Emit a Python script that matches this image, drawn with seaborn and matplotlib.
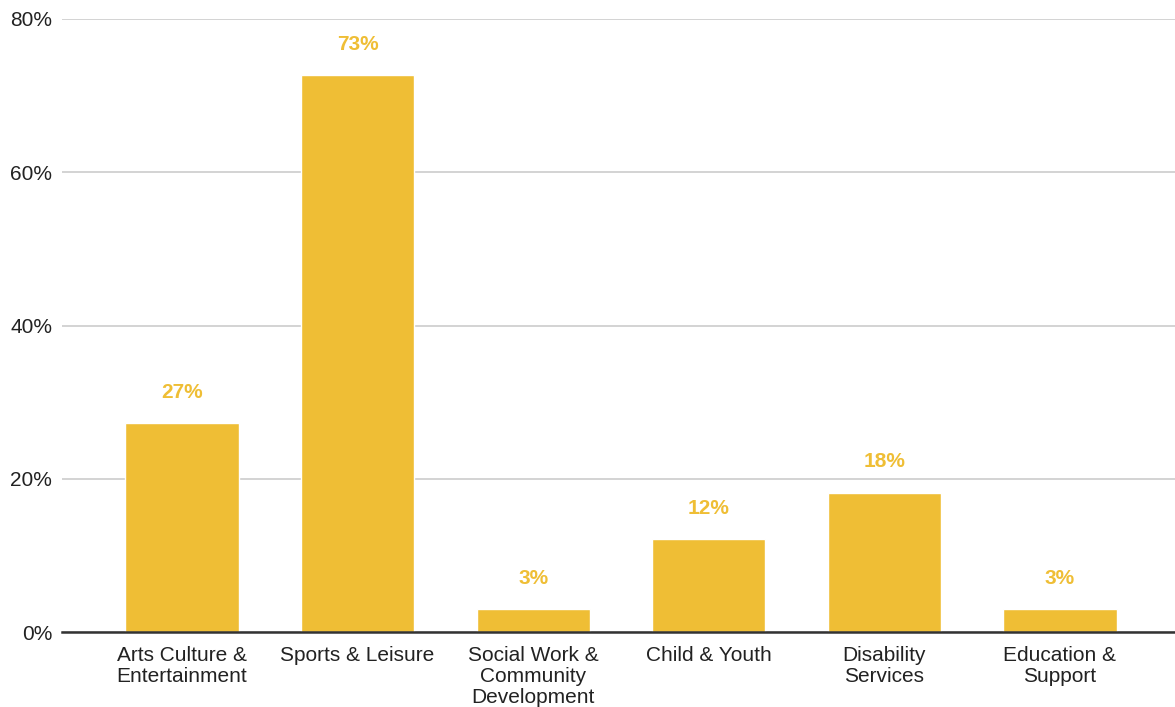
import matplotlib
matplotlib.use("Agg")
import matplotlib.pyplot as plt
import seaborn as sns
import pandas as pd
from matplotlib.ticker import FuncFormatter

categories = ["Arts Culture &\nEntertainment", "Sports & Leisure", "Social Work &\nCommunity\nDevelopment",
              "Child & Youth", "Disability\nServices", "Education &\nSupport"]
values = [27.3, 72.7, 3.0, 12.1, 18.2, 3.0]
labels = ["27%", "73%", "3%", "12%", "18%", "3%"]
yticks = [0, 20, 40, 60, 80]

sns.set_theme(style="white")
plt.rcParams['font.family'] = ['Liberation Sans', 'DejaVu Sans']

BAR = "#EFBE35"
df = pd.DataFrame({"cat": categories, "val": values})

fig = plt.figure(figsize=(11.75, 7.07), dpi=100)
ax = fig.add_axes([62/1175, 75/707, 1 - 62/1175, (632-19)/707])
sns.barplot(data=df, x="cat", y="val", color=BAR, saturation=1, width=0.645, ax=ax, zorder=3)

ax.set_ylim(0, 80)
ax.set_xlim(-0.683, 5.655)
ax.set_yticks(yticks)
ax.yaxis.set_major_formatter(FuncFormatter(lambda v, p: f"{int(v)}%"))
ax.grid(axis="y", color="#cccccc", linewidth=1.2, zorder=0)
ax.set_axisbelow(True)
for s in ["top", "right", "left"]:
    ax.spines[s].set_visible(False)
ax.spines["bottom"].set_color("#333333")
ax.spines["bottom"].set_linewidth(1.8)
ax.spines["bottom"].set_zorder(4)
ax.tick_params(axis="y", length=0, pad=7, labelsize=15, labelcolor="#222222")
ax.tick_params(axis="x", length=0, pad=10, labelsize=15, labelcolor="#222222")
for t in ax.get_xticklabels():
    t.set_linespacing(1.14)
ax.set_xlabel("")
ax.set_ylabel("")

for i, (v, lab) in enumerate(zip(values, labels)):
    ax.annotate(lab, (i, v), xytext=(0, 22), textcoords="offset points",
                ha="center", va="center", fontsize=15, fontweight="bold", color=BAR)

fig.savefig("out.png", dpi=100)
